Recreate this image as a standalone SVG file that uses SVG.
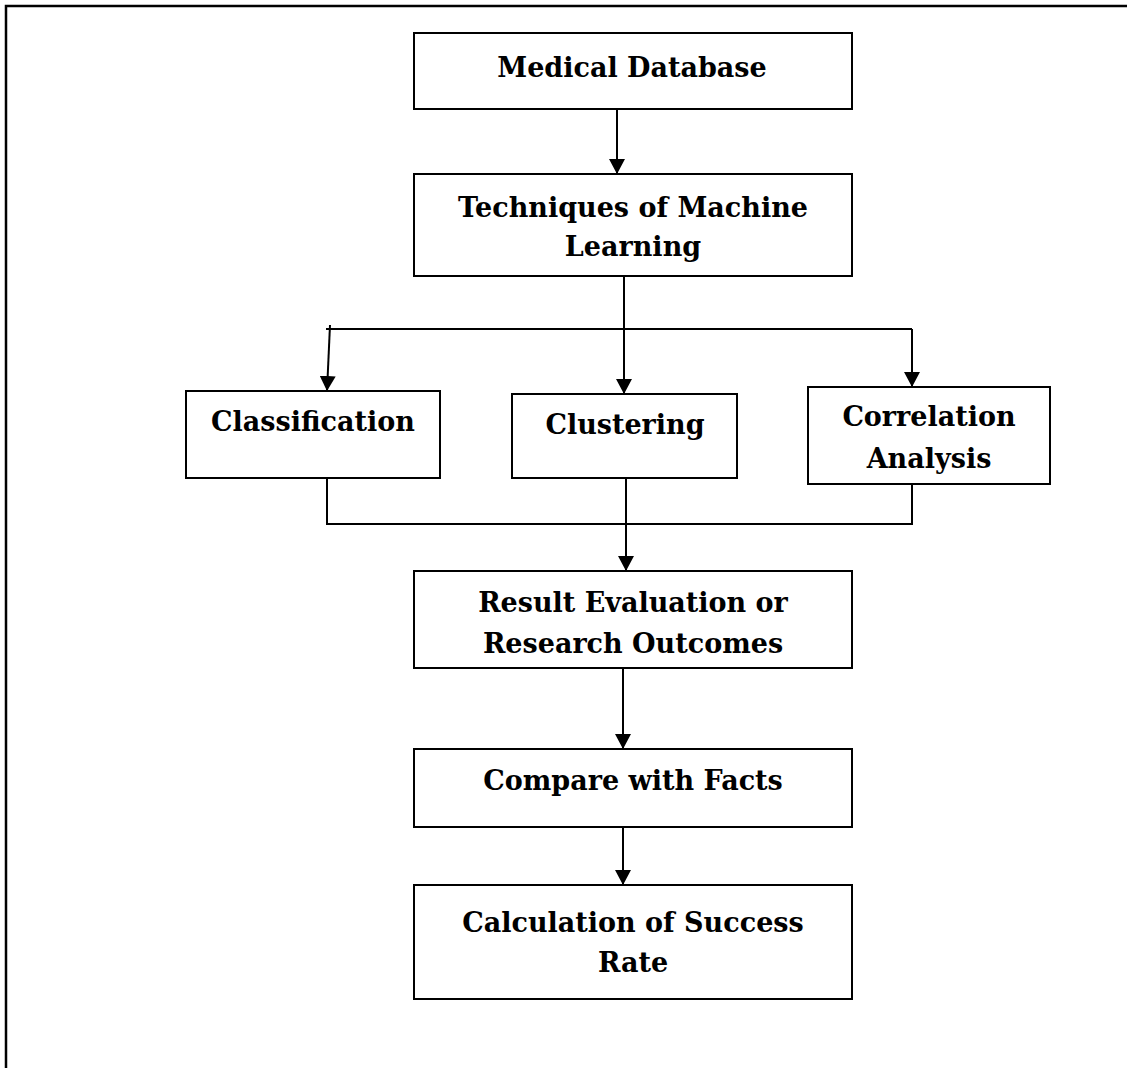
<svg xmlns="http://www.w3.org/2000/svg" width="1127" height="1068" viewBox="0 0 1127 1068">
<defs>
<style>
.box{fill:#fff;stroke:#000;stroke-width:2}
.t{font-family:"DejaVu Serif","Liberation Serif",serif;font-weight:bold;font-size:27px;fill:#000;text-anchor:middle}
.c{fill:none;stroke:#000;stroke-width:2}
</style>
<marker id="ah" markerUnits="userSpaceOnUse" markerWidth="16" markerHeight="16" refX="15" refY="8" orient="auto">
<path d="M0,0 L15,8 L0,16 z" fill="#000"/>
</marker>
</defs>
<rect width="1127" height="1068" fill="#fff"/>
<path d="M6,1068 V6 H1127" fill="none" stroke="#000" stroke-width="2.5"/>
<g id="connectors">
<line class="c" x1="617" y1="109" x2="617" y2="174" marker-end="url(#ah)"/>
<line class="c" x1="624" y1="276" x2="624" y2="394" marker-end="url(#ah)"/>
<line class="c" x1="326" y1="329" x2="912" y2="329"/>
<line class="c" x1="330" y1="325" x2="327" y2="391" marker-end="url(#ah)"/>
<line class="c" x1="912" y1="329" x2="912" y2="387" marker-end="url(#ah)"/>
<polyline class="c" points="327,478 327,524 912,524 912,484"/>
<line class="c" x1="626" y1="478" x2="626" y2="571" marker-end="url(#ah)"/>
<line class="c" x1="623" y1="668" x2="623" y2="749" marker-end="url(#ah)"/>
<line class="c" x1="623" y1="827" x2="623" y2="885" marker-end="url(#ah)"/>
</g>
<g id="medical-database">
<rect class="box" x="414" y="33" width="438" height="76"/>
<text class="t" x="632" y="77">Medical Database</text>
</g>
<g id="techniques">
<rect class="box" x="414" y="174" width="438" height="102"/>
<text class="t" x="633" y="217">Techniques of Machine</text>
<text class="t" x="633" y="256">Learning</text>
</g>
<g id="classification">
<rect class="box" x="186" y="391" width="254" height="87"/>
<text class="t" x="313" y="431">Classification</text>
</g>
<g id="clustering">
<rect class="box" x="512" y="394" width="225" height="84"/>
<text class="t" x="625" y="434">Clustering</text>
</g>
<g id="correlation">
<rect class="box" x="808" y="387" width="242" height="97"/>
<text class="t" x="929" y="426">Correlation</text>
<text class="t" x="929" y="468">Analysis</text>
</g>
<g id="result">
<rect class="box" x="414" y="571" width="438" height="97"/>
<text class="t" x="633" y="612">Result Evaluation or</text>
<text class="t" x="633" y="653">Research Outcomes</text>
</g>
<g id="compare">
<rect class="box" x="414" y="749" width="438" height="78"/>
<text class="t" x="633" y="790">Compare with Facts</text>
</g>
<g id="calculation">
<rect class="box" x="414" y="885" width="438" height="114"/>
<text class="t" x="633" y="932">Calculation of Success</text>
<text class="t" x="633" y="972">Rate</text>
</g>
</svg>
